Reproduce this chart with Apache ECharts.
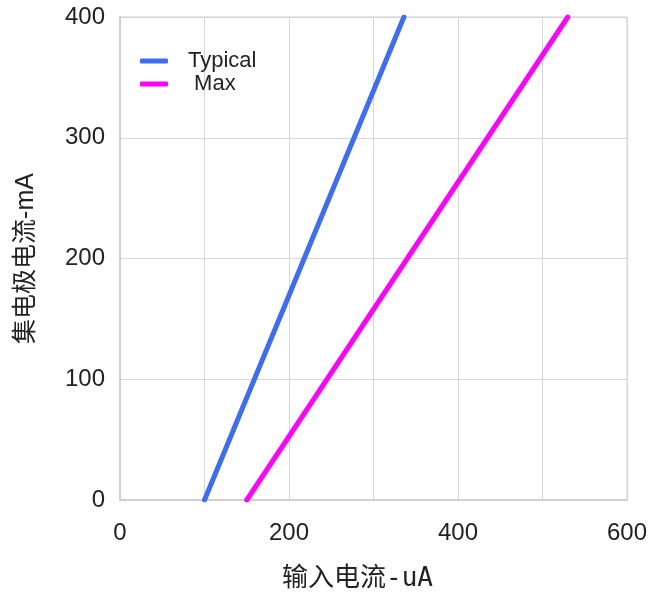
<!DOCTYPE html>
<html><head><meta charset="utf-8">
<script src="https://cdn.jsdelivr.net/npm/echarts@6/dist/echarts.min.js"></script>
<style>html,body{margin:0;padding:0;background:#fff}#c{width:665px;height:593px}</style>
</head><body><div id="c"></div>
<script>
const seriesNames = ['Typical', 'Max'];
const typicalInput = [100, 336];
const typicalCollector = [0, 400];
const maxInput = [150, 530];
const maxCollector = [0, 400];
const xTicks = [0, 200, 400, 600];
const yTicks = [0, 100, 200, 300, 400];
const xName = '输入电流-uA';
const yName = '集电极电流-mA';

const chart = echarts.init(document.getElementById('c'));
const pair = (xs, ys) => xs.map((x, i) => [x, ys[i]]);
chart.setOption({
  animation: false,
  grid: { left: 120, right: 38, top: 17, bottom: 93, show: true, borderColor: '#cfcfcf', borderWidth: 1,
    outerBoundsMode: 'none', containLabel: false },
  legend: {
    orient: 'vertical', left: 135, top: 45, itemGap: 1,
    icon: 'roundRect', itemWidth: 28, itemHeight: 5,
    formatter: n => n === 'Max' ? ' ' + n : n,
    textStyle: { fontFamily: 'Liberation Sans, Arial', fontSize: 22, color: '#222', padding: [0, 0, 0, 15] },
    data: seriesNames
  },
  xAxis: {
    type: 'value', min: 0, max: 600, interval: 100,
    name: xName, nameLocation: 'middle', nameGap: 66,
    nameTextStyle: { fontFamily: 'DejaVu Sans Mono, Noto Sans CJK SC', fontSize: 26, color: '#222', padding: [0, 32, 0, 0] },
    axisLine: { show: true, lineStyle: { color: '#cfcfcf', width: 2 } },
    axisTick: { show: false },
    axisLabel: { margin: 21, fontFamily: 'Liberation Sans, Arial', fontSize: 24, color: '#222',
      formatter: v => xTicks.includes(v) ? String(v) : '' },
    splitLine: { show: true, lineStyle: { color: '#d6d6d6', width: 1 } }
  },
  yAxis: {
    type: 'value', min: 0, max: 400, interval: 100,
    name: yName, nameLocation: 'middle', nameGap: 81, nameRotate: 90,
    nameTextStyle: { fontFamily: 'Liberation Sans, Noto Sans CJK SC', fontSize: 25, color: '#222' },
    axisLine: { show: true, lineStyle: { color: '#cfcfcf', width: 2 } },
    axisTick: { show: false },
    axisLabel: { margin: 15, fontFamily: 'Liberation Sans, Arial', fontSize: 24, color: '#222',
      formatter: v => yTicks.includes(v) ? String(v) : '' },
    splitLine: { show: true, lineStyle: { color: '#d6d6d6', width: 1 } }
  },
  series: [
    { name: seriesNames[0], type: 'line', data: pair(typicalInput, typicalCollector), symbol: 'none',
      lineStyle: { color: '#3d6df2', width: 5, cap: 'round' }, itemStyle: { color: '#3d6df2' } },
    { name: seriesNames[1], type: 'line', data: pair(maxInput, maxCollector), symbol: 'none',
      lineStyle: { color: '#ff00ff', width: 5, cap: 'round' }, itemStyle: { color: '#ff00ff' } }
  ]
});
</script></body></html>
